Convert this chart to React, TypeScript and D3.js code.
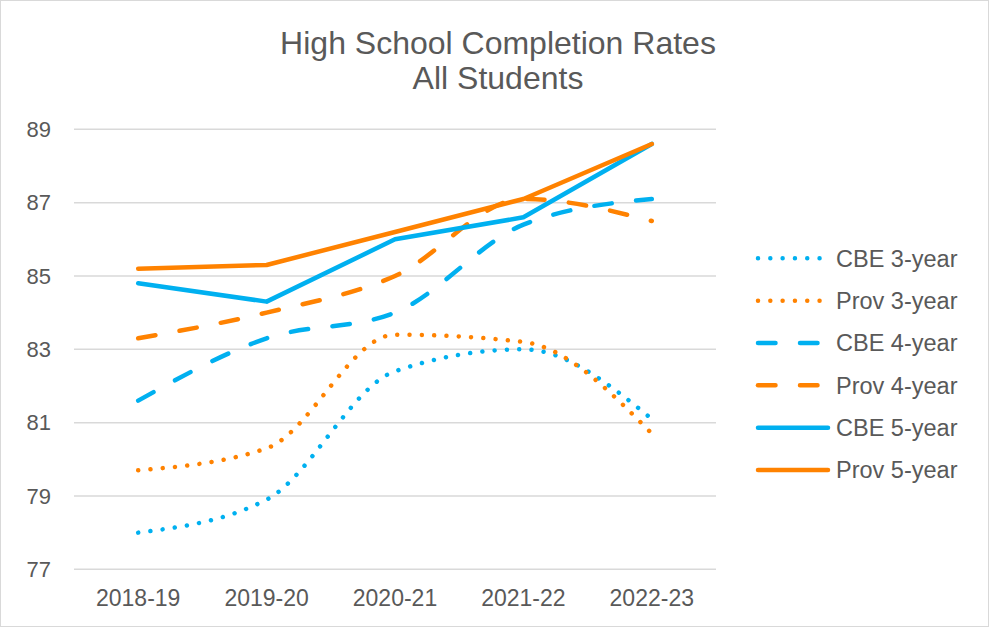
import React from "react";
import * as d3 from "d3";

const years = ["2018-19", "2019-20", "2020-21", "2021-22", "2022-23"];
const yTicks = [77, 79, 81, 83, 85, 87, 89];

const cbe3 = [78.0, 78.9, 82.4, 83.0, 81.1];
const prov3 = [79.7, 80.3, 83.4, 83.2, 80.7];
const cbe4 = [81.6, 83.3, 84.0, 86.4, 87.1];
const prov4 = [83.3, 84.0, 85.0, 87.1, 86.5];
const cbe5 = [84.8, 84.3, 86.0, 86.6, 88.6];
const prov5 = [85.2, 85.3, 86.2, 87.1, 88.6];

const BLUE = "#00B0F0";
const ORANGE = "#FF8200";
const TEXT = "#595959";

// style per series: dot / dash / solid, smoothed or not
const series = [
  { name: "CBE 3-year", values: cbe3, color: BLUE, dash: "0.01 12.3", smooth: true },
  { name: "Prov 3-year", values: prov3, color: ORANGE, dash: "0.01 12.3", smooth: true },
  { name: "CBE 4-year", values: cbe4, color: BLUE, dash: "17.5 24.5", smooth: true },
  { name: "Prov 4-year", values: prov4, color: ORANGE, dash: "17.5 24.5", smooth: true },
  { name: "CBE 5-year", values: cbe5, color: BLUE, dash: null, smooth: false },
  { name: "Prov 5-year", values: prov5, color: ORANGE, dash: null, smooth: false },
];

const W = 990;
const H = 628;
const plot = { left: 74, right: 716, top: 129.3, bottom: 569.3 };

export default function App() {
  const x = d3.scaleBand().domain(years).range([plot.left, plot.right]);
  const y = d3.scaleLinear().domain([77, 89]).range([plot.bottom, plot.top]);
  const cx = (d: string) => (x(d) ?? 0) + x.bandwidth() / 2;

  const makeLine = (smooth: boolean) =>
    d3
      .line<number>()
      .x((_, i) => cx(years[i]))
      .y((v) => y(v))
      .curve(smooth ? d3.curveMonotoneX : d3.curveLinear);

  const font = "'Liberation Sans', Arial, sans-serif";

  return (
    <svg
      width={W}
      height={H}
      style={{ position: "absolute", left: 0, top: 0, background: "#fff" }}
      fontFamily={font}
    >
      <rect x={0.5} y={0.5} width={W - 2} height={H - 2} fill="#fff" stroke="#d9d9d9" />

      <text x={498} y={54} textAnchor="middle" fontSize={32} fill={TEXT}>
        High School Completion Rates
      </text>
      <text x={498} y={89} textAnchor="middle" fontSize={32} fill={TEXT}>
        All Students
      </text>

      {/* gridlines + y labels */}
      {yTicks.map((t) => (
        <g key={t}>
          <line x1={plot.left} x2={plot.right} y1={y(t)} y2={y(t)} stroke="#d9d9d9" strokeWidth={1.5} />
          <text x={51} y={y(t)} dy="0.35em" textAnchor="end" fontSize={22} fill={TEXT}>
            {t}
          </text>
        </g>
      ))}

      {years.map((yr) => (
        <text key={yr} x={cx(yr)} y={606} textAnchor="middle" fontSize={23} fill={TEXT}>
          {yr}
        </text>
      ))}

      {series.map((s) => (
        <path
          key={s.name}
          d={makeLine(s.smooth)(s.values) ?? ""}
          fill="none"
          stroke={s.color}
          strokeWidth={4.5}
          strokeLinecap="round"
          strokeLinejoin="round"
          strokeDasharray={s.dash ?? undefined}
        />
      ))}

      {/* legend */}
      {series.map((s, i) => {
        const ly = 258.3 + i * 42.35;
        return (
          <g key={s.name}>
            <line
              x1={758}
              x2={828}
              y1={ly}
              y2={ly}
              stroke={s.color}
              strokeWidth={4.5}
              strokeLinecap="round"
              strokeDasharray={s.dash ?? undefined}
            />
            <text x={836} y={ly} dy="0.35em" fontSize={23.5} fill={TEXT}>
              {s.name}
            </text>
          </g>
        );
      })}
    </svg>
  );
}
